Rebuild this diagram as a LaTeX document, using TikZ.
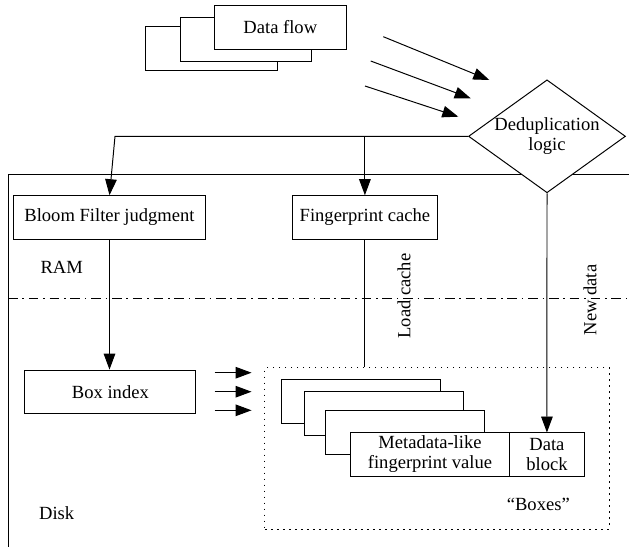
\documentclass[tikz,border=0pt]{standalone}
\usepackage{fontspec}
\setmainfont{Liberation Serif}
\usepackage{tikz}
\usetikzlibrary{arrows.meta}
\usetikzlibrary{shapes.geometric}
\usetikzlibrary{positioning}
\tikzset{
    procbox/.style = {rectangle, draw=black, fill=white, align=center, inner sep=0pt, minimum height=1.09cm},
    stackbox/.style = {rectangle, draw=black, fill=white, align=center, inner sep=0pt, outer sep=0pt, minimum width=3.97cm, minimum height=1.09cm},
    decision/.style = {diamond, draw=black, fill=white, align=center, inner sep=0pt, aspect=1.39, minimum width=3.9cm, minimum height=2.8cm},
}
\begin{document}
\begin{tikzpicture}[
	x=0.025cm,
	y=-0.025cm,
	line width=0.7pt,
	font=\fontsize{13.2}{14.5}\selectfont
]
\tikzset{
    edgea/.style = {-{Triangle[length=0.4cm,width=0.29cm]}},
    edgen/.style = {-},
    edgedd/.style = {dash pattern=on 0.24cm off 0.12cm on 0.04cm off 0.12cm},
    edgedot/.style = {dash pattern=on 0.04cm off 0.11cm},
}
\useasboundingbox (0,0) rectangle (629,547);
% RAM / disk frame
\coordinate (fl) at (8,174);
\coordinate (fr) at (629,174);
\coordinate (fb) at (8,547);
\coordinate (sl) at (8,298.3);
\coordinate (sr) at (629,298.3);
\draw[edgen] (fr) -- (fl) -- (fb);
\draw[edgedd] (sl) -- (sr);
%
\node[procbox, minimum width=3.29cm, minimum height=1.1cm] at (211.5,48.7) (df3) {};
\node[procbox, minimum width=3.29cm, minimum height=1.1cm] at (246.0,39.3) (df2) {};
\node[procbox, minimum width=3.29cm, minimum height=1.1cm] at (280.3,27.0) (df1) {Data flow};
\node[decision] at (547,136.3) (dedup) {Deduplication\\logic};
\node[procbox, minimum width=4.78cm] at (109.5,217.5) (bloom) {Bloom Filter judgment};
\node[procbox, minimum width=3.61cm] at (364.9,217.5) (fpc) {Fingerprint cache};
\node[procbox, minimum width=4.27cm, minimum height=1.08cm] at (110.4,391.7) (boxidx) {Box index};
\node at (61.7,267.3) (ram) {RAM};
\node at (56.7,513.3) (disk) {Disk};
%
\node[rectangle, draw=black, edgedot, inner sep=0pt, minimum width=8.6cm, minimum height=4.03cm] at (437,448.4) (boxes) {};
\node at (538.3,504) (boxlbl) {“Boxes”};
\node[stackbox] at (361.0,401.3) (sb1) {};
\node[stackbox] at (383.8,413.5) (sb2) {};
\node[stackbox] at (404.7,432.3) (sb3) {};
\node[stackbox] at (430.0,454.3) (meta) {Metadata-like\\fingerprint value};
\node[stackbox, minimum width=1.875cm, anchor=west] at (meta.east) (dblock) {Data\\block};
%
\coordinate (a1) at (383.3,36.7);
\coordinate (b1) at (489.3,80.0);
\coordinate (a2) at (370.7,61.0);
\coordinate (b2) at (470.7,98.3);
\coordinate (a3) at (365.0,86.0);
\coordinate (b3) at (458.3,116.7);
\draw[edgea] (a1) -- (b1);
\draw[edgea] (a2) -- (b2);
\draw[edgea] (a3) -- (b3);
%
\coordinate (jl) at (115,136.3);
\draw[edgea] (dedup.west) -- (jl) -- (bloom.north);
\draw[edgea] (fpc.north |- dedup.west) -- (fpc.north);
\draw[edgea] (dedup.south) -- (dblock.north);
\draw[edgea] (bloom.south) -- (bloom.south |- boxidx.north);
\draw[edgen] (fpc.south) -- (fpc.south |- boxes.north);
\node[rotate=90] at (404,296) (lc) {Load cache};
\node[rotate=90] at (590,300) (nd) {New data};
%
\draw[edgea] ([shift={(0.46cm,0.475cm)}]boxidx.east) -- ++(0.92cm,0);
\draw[edgea] ([shift={(0.46cm,0cm)}]boxidx.east) -- ++(0.92cm,0);
\draw[edgea] ([shift={(0.46cm,-0.465cm)}]boxidx.east) -- ++(0.92cm,0);
\end{tikzpicture}
\end{document}
